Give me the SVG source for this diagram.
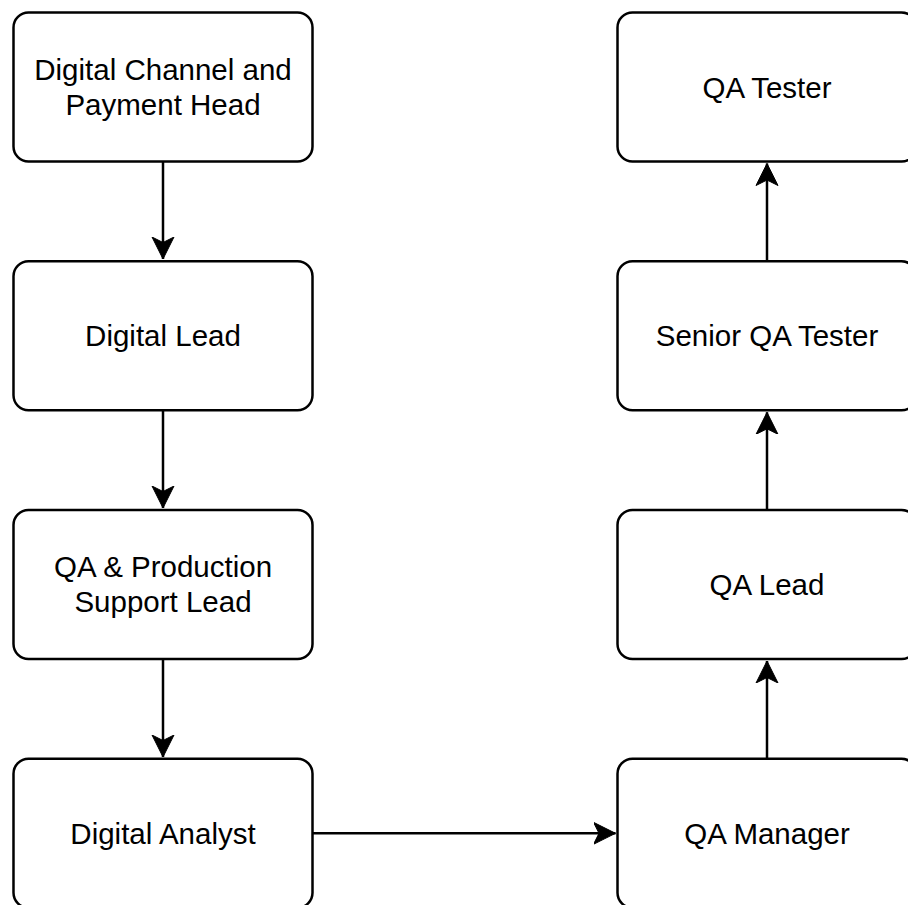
<svg xmlns="http://www.w3.org/2000/svg" width="908" height="905" viewBox="0 0 908 905">
  <style>
    .box { fill: #ffffff; stroke: #000000; stroke-width: 2.5; }
    .lbl { font-family: "Liberation Sans", Arial, Helvetica, sans-serif; font-size: 29.5px; fill: #000000; text-anchor: middle; }
    .edge { fill: none; stroke: #000000; stroke-width: 2.5; }
  </style>
  <defs>
    <marker id="arrow" markerUnits="userSpaceOnUse" viewBox="-22 -12 24 24" refX="0" refY="0" markerWidth="24" markerHeight="24" orient="auto">
      <path d="M0,0 L-22,-11 L-16.5,0 L-22,11 Z" fill="#000000" stroke="#000000" stroke-width="1" stroke-linejoin="miter"/>
    </marker>
  </defs>
  <rect width="908" height="905" fill="#ffffff"/>

  <g id="connectors">
    <path class="edge" d="M163,161.5 L163,259" marker-end="url(#arrow)"/>
    <path class="edge" d="M163,410.3 L163,508" marker-end="url(#arrow)"/>
    <path class="edge" d="M163,659 L163,757" marker-end="url(#arrow)"/>
    <path class="edge" d="M312.5,833.3 L615.5,833.3" marker-end="url(#arrow)"/>
    <path class="edge" d="M767,758.8 L767,661" marker-end="url(#arrow)"/>
    <path class="edge" d="M767,510 L767,412.3" marker-end="url(#arrow)"/>
    <path class="edge" d="M767,261.3 L767,163.5" marker-end="url(#arrow)"/>
  </g>

  <g id="digital-channel-payment-head">
    <rect class="box" x="13.5" y="12.5" width="299" height="149" rx="15" ry="15"/>
    <text class="lbl" x="163" y="79.5">Digital Channel and</text>
    <text class="lbl" x="163" y="114.5">Payment Head</text>
  </g>
  <g id="digital-lead">
    <rect class="box" x="13.5" y="261.3" width="299" height="149" rx="15" ry="15"/>
    <text class="lbl" x="163" y="346.3">Digital Lead</text>
  </g>
  <g id="qa-production-support-lead">
    <rect class="box" x="13.5" y="510" width="299" height="149" rx="15" ry="15"/>
    <text class="lbl" x="163" y="577">QA &amp; Production</text>
    <text class="lbl" x="163" y="612">Support Lead</text>
  </g>
  <g id="digital-analyst">
    <rect class="box" x="13.5" y="758.8" width="299" height="149" rx="15" ry="15"/>
    <text class="lbl" x="163" y="843.8">Digital Analyst</text>
  </g>

  <g id="qa-tester">
    <rect class="box" x="617.5" y="12.5" width="299" height="149" rx="15" ry="15"/>
    <text class="lbl" x="767" y="97.5">QA Tester</text>
  </g>
  <g id="senior-qa-tester">
    <rect class="box" x="617.5" y="261.3" width="299" height="149" rx="15" ry="15"/>
    <text class="lbl" x="767" y="346.3">Senior QA Tester</text>
  </g>
  <g id="qa-lead">
    <rect class="box" x="617.5" y="510" width="299" height="149" rx="15" ry="15"/>
    <text class="lbl" x="767" y="595">QA Lead</text>
  </g>
  <g id="qa-manager">
    <rect class="box" x="617.5" y="758.8" width="299" height="149" rx="15" ry="15"/>
    <text class="lbl" x="767" y="843.8">QA Manager</text>
  </g>
</svg>
